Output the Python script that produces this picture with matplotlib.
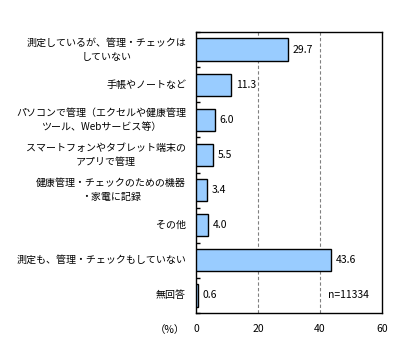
import matplotlib
matplotlib.use("Agg")
import matplotlib.pyplot as plt
import numpy as np

plt.rcParams['font.family'] = ['Noto Sans CJK JP', 'DejaVu Sans']

categories = [
    "測定しているが、管理・チェックは\nしていない",
    "手帳やノートなど",
    "パソコンで管理（エクセルや健康管理\nツール、Webサービス等）",
    "スマートフォンやタブレット端末の\nアプリで管理",
    "健康管理・チェックのための機器\n・家電に記録",
    "その他",
    "測定も、管理・チェックもしていない",
    "無回答",
]
values = [29.7, 11.3, 6.0, 5.5, 3.4, 4.0, 43.6, 0.6]
x_ticks = [0, 20, 40, 60]
note = "n=11334"

fig = plt.figure(figsize=(4.12, 3.55), dpi=100)
ax = fig.add_axes([196/412, 1-313/355, 186/412, 281/355])

y = np.arange(len(categories))
ax.barh(y, values, height=0.63, color="#99CCFF", edgecolor="black", linewidth=1.0, zorder=3)
ax.set_ylim(len(categories) - 0.5, -0.5)
ax.set_xlim(0, 60)

for yi, v in zip(y, values):
    ax.text(v + 1.5, yi, f"{v:.1f}", va="center", ha="left", fontsize=7.5, zorder=4)

for gx in [20, 40]:
    ax.axvline(gx, color="gray", linestyle=(0, (3, 2)), linewidth=0.8, zorder=1)

ax.set_yticks(np.arange(len(categories) + 1) - 0.5)
ax.set_yticklabels([])
ax.tick_params(axis="y", direction="in", length=3, width=1, left=True)
for yi, lab in zip(y, categories):
    ax.text(-3.2, yi, lab, ha="right", va="center", fontsize=7.2, linespacing=1.5,
            multialignment="center")

ax.set_xticks(x_ticks)
ax.set_xticklabels([str(t) for t in x_ticks], fontsize=7.5)
ax.tick_params(axis="x", length=0, pad=8)
ax.text(42.5, 7, note, ha="left", va="center", fontsize=7.5)

for s in ax.spines.values():
    s.set_linewidth(1.0)

fig.text(155/412, 1-330/355, "（%）", ha="left", va="center", fontsize=7.5)

fig.savefig("out.png", dpi=100)
